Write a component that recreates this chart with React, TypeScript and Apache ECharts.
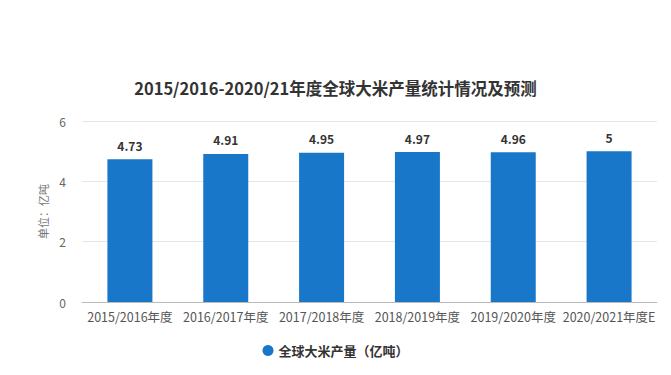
import React, { useEffect, useRef } from "react";
import * as echarts from "echarts";

const categories = [
  "2015/2016年度",
  "2016/2017年度",
  "2017/2018年度",
  "2018/2019年度",
  "2019/2020年度",
  "2020/2021年度E",
];
const values = [4.73, 4.91, 4.95, 4.97, 4.96, 5];
const seriesName = "全球大米产量（亿吨）";
const titleText = "2015/2016-2020/21年度全球大米产量统计情况及预测";
const yAxisName = "单位：亿吨";

export default function App() {
  const ref = useRef<HTMLDivElement>(null);
  useEffect(() => {
    document.body.style.margin = "0";
    if (!ref.current) return;
    const chart = echarts.init(ref.current, null, { renderer: "svg" });
    const font = '"Noto Sans CJK SC", "Noto Sans", sans-serif';
    chart.setOption({
      animation: false,
      textStyle: { fontFamily: font },
      title: {
        text: titleText,
        left: "center",
        top: 75,
        textStyle: { fontSize: 16.5, fontWeight: "bold", color: "#333", fontFamily: font },
      },
      legend: {
        bottom: 13,
        left: "center",
        icon: "circle",
        itemWidth: 11,
        itemHeight: 11,
        textStyle: { fontSize: 13, color: "#333", fontWeight: "bold", fontFamily: font },
        data: [seriesName],
      },
      grid: { left: 82, right: 14, top: 121, bottom: 73, containLabel: false },
      xAxis: {
        type: "category",
        data: categories,
        axisTick: { alignWithLabel: true, lineStyle: { color: "#bbb" } },
        axisLine: { lineStyle: { color: "#bbb" } },
        axisLabel: { color: "#555", fontSize: 12.5, margin: 8, interval: 0 },
      },
      yAxis: {
        type: "value",
        min: 0,
        max: 6,
        interval: 2,
        name: yAxisName,
        nameLocation: "middle",
        nameGap: 32,
        nameRotate: 90,
        nameTextStyle: { color: "#777", fontSize: 11 },
        axisLabel: { color: "#666", fontSize: 12, margin: 16 },
        axisLine: { show: false },
        axisTick: { show: false },
        splitLine: { lineStyle: { color: "#e6e6e6" } },
      },
      series: [
        {
          name: seriesName,
          type: "bar",
          data: values,
          barWidth: 45,
          itemStyle: { color: "#1877c9" },
          label: {
            show: true,
            position: "top",
            distance: 8,
            color: "#333",
            fontSize: 12,
            fontWeight: "bold",
          },
        },
      ],
    });
    return () => chart.dispose();
  }, []);
  return <div ref={ref} style={{ width: 671, height: 375 }} />;
}
